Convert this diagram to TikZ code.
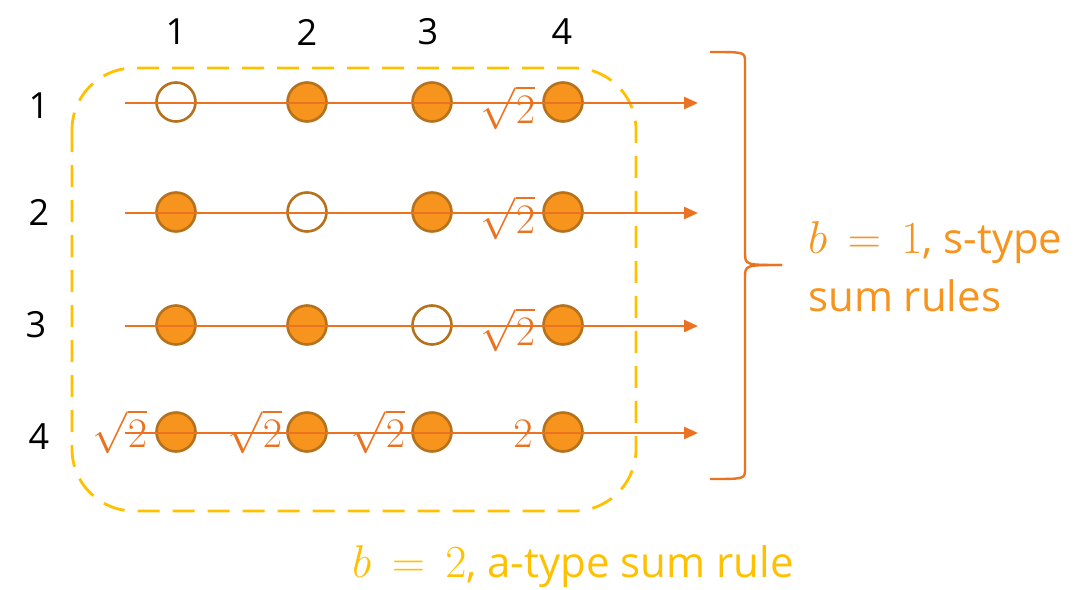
\RequirePackage{fix-cm}
\documentclass[tikz,border=0pt]{standalone}
\usepackage{fontspec}
\newfontfamily\lblfont{Open Sans}
\usetikzlibrary{arrows.meta}
\definecolor{sumorange}{HTML}{F7941D}
\definecolor{sumedge}{HTML}{B5711C}
\definecolor{sumline}{HTML}{EB7220}
\definecolor{sumyellow}{HTML}{FFC000}
\newcommand{\bval}[1]{{\fontsize{46}{50}\selectfont$b\,=\,#1$}}
\tikzset{
  dot/.style={circle, draw=sumedge, line width=2.6pt, minimum size=39pt, inner sep=0pt, fill=sumorange},
  hole/.style={dot, fill=none},
  row/.style={-{Triangle[length=14pt,width=12pt]}, line width=2.4pt, color=sumline},
  wt/.style={font=\fontsize{42}{42}\selectfont, text=sumline, inner sep=0pt, anchor=base},
  idx/.style={font=\lblfont\fontsize{36}{36}\selectfont, inner sep=0pt},
  note/.style={font=\lblfont\fontsize{42}{50}\selectfont, inner sep=0pt, anchor=base west},
  frame/.style={draw=sumyellow, line width=2.8pt, dash pattern=on 22pt off 13pt, rounded corners=62pt},
  brc/.style={draw=sumline, line width=2.4pt},
}

\begin{document}
\begin{tikzpicture}[x=1pt, y=-1pt]
  \useasboundingbox (0,0) rectangle (1086,589);
  % dashed frame
  \draw[frame] (72,68) rectangle (636,511);
  % column and row indices
  \foreach \c/\x in {1/176,2/307,3/428,4/562}
    \node[idx] (hdr\c) at (\x,32) {\c};
  \foreach \r/\x/\y in {1/39/106,2/39/212,3/36/325,4/39/437}
    \node[idx] (lbl\r) at (\x,\y) {\r};
  % dots, hollow one on the diagonal
  \foreach \r/\y/\h in {1/102/1,2/212/2,3/325/3,4/432/0} {
    \foreach \c/\x in {1/176,2/307,3/432,4/563} {
      \def\sty{dot}
      \ifnum\c=\h \def\sty{hole}\fi
      \node[\sty] (c\r\c) at (\x,\y) {};
    }
    \coordinate (s\r) at (125,\y+1);
    \coordinate (e\r) at (698,\y+1);
    \draw[row] (s\r) -- (e\r);
  }
  % weights
  \foreach \r/\y in {1/123,2/233,3/345}
    \node[wt] (w\r) at (508,\y) {$\sqrt{2}$};
  \node[wt] (w41) at (120,447) {$\sqrt{2}$};
  \node[wt] (w42) at (255,447) {$\sqrt{2}$};
  \node[wt] (w43) at (378,447) {$\sqrt{2}$};
  \node[wt] (w44) at (523,447) {$2$};
  % brace
  \coordinate (btop) at (710,52);
  \coordinate (bbot) at (710,479);
  \coordinate (btip) at (782,265);
  \draw[brc] (btop) .. controls (745,52) .. (745,62) -- (745,252) .. controls (745,265) .. (btip);
  \draw[brc] (bbot) .. controls (745,479) .. (745,469) -- (745,278) .. controls (745,265) .. (btip);
  % notes
  \node[note, text=sumorange] (srule) at (808,253) {\bval{1}, s-type};
  \node[note, text=sumorange] (srule2) at (808,311) {sum rules};
  \node[note, text=sumyellow] (arule) at (352,577) {\bval{2}, a-type sum rule};
\end{tikzpicture}
\end{document}
